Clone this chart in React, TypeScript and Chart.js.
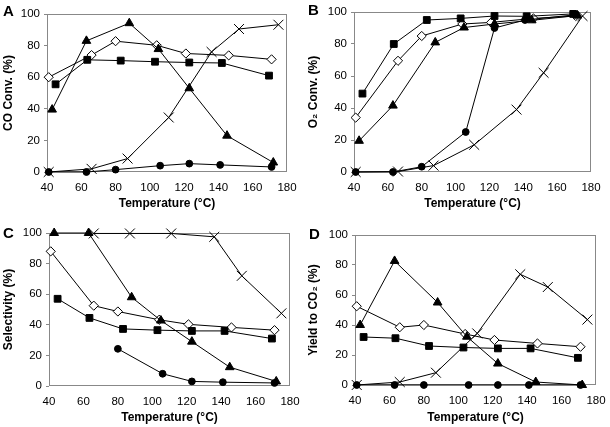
import React, { useEffect, useRef } from "react";
import { Chart, registerables } from "chart.js";

Chart.register(...registerables);

// Temperatures (°C) of each catalyst series
const tempSquare = [45, 63.5, 83, 103, 123, 142, 169.5];
const tempDiamond = [41, 66, 80, 104, 121, 146, 171];
const tempTriangle = [43, 63, 88, 105, 123, 145, 172];
const tempCross = [41, 66, 87, 111, 136, 152, 175];
const tempCircle = [41, 63, 80, 106, 123, 141, 171];

// A: CO conversion (%)
const coSquare = [55.5, 71, 70.5, 69.8, 69.3, 69, 61];
const coDiamond = [60, 74, 82.8, 80.2, 75, 73.8, 71.3];
const coTriangle = [39.5, 83, 94.2, 77.8, 53, 23, 6];
const coCross = [0, 2, 8.5, 34.5, 76, 90.5, 93.2];
const coCircle = [0, 0, 1.5, 4, 5.3, 4.5, 3.2];

// B: O2 conversion (%)
const o2Square = [49, 80, 95, 96, 97.5, 97.3, 98.8];
const o2Diamond = [34, 69.5, 85, 92.5, 93.5, 96, 97.5];
const o2Triangle = [19.5, 41.5, 81, 90.3, 92.5, 94.8, 97.8];
const o2Cross = [0, 0.3, 4, 17, 39, 62, 97.5];
const o2Circle = [0, 0, 3.3, 25, 90, 95, 98.3];

// C: Selectivity (%)
const selSquare = [57, 44.5, 37.3, 36.5, 36, 36, 31];
const selDiamond = [88, 52.5, 48.7, 43.3, 40.3, 38.3, 36.5];
const selTriangle = [100, 100, 58, 42.8, 29, 12.3, 3];
const selCross = [null, 99.7, 99.7, 99.7, 97.5, 72, 47.5];
const selCircle = [null, null, 24.3, 8, 3, 2.5, 2];

// D: Yield to CO2 (%)
const yldSquare = [32, 31.2, 26, 25, 24.4, 24.4, 18.1];
const yldDiamond = [52.5, 38.5, 40, 34, 30, 27.7, 25.5];
const yldTriangle = [40, 82.7, 55, 32.2, 14.3, 2, 0];
const yldCross = [0, 2, 8.2, 34.4, 73.8, 65.3, 43.6];
const yldCircle = [0, 0, 0, 0, 0, 0, 0];

const xTitle = "Temperature (°C)";
const FONT = "'Liberation Sans', Arial, sans-serif";

const styles: Record<string, any> = {
  square: { pointStyle: "rect", pointRadius: 4.8, pointBackgroundColor: "#000" },
  diamond: { pointStyle: "rectRot", pointRadius: 4.6, pointBackgroundColor: "#fff" },
  triangle: { pointStyle: "triangle", pointRadius: 5, pointBackgroundColor: "#000" },
  cross: { pointStyle: "crossRot", pointRadius: 7, pointBackgroundColor: "#000" },
  circle: { pointStyle: "circle", pointRadius: 3.4, pointBackgroundColor: "#000" },
};

function makeSeries(kind: string, temps: number[], vals: (number | null)[]) {
  return {
    data: temps.map((t, i) => ({ x: t, y: vals[i] })),
    borderColor: "#000",
    borderWidth: 1,
    pointBorderColor: "#000",
    pointBorderWidth: 1,
    clip: false,
    spanGaps: false,
    ...styles[kind],
  };
}

const framePlugin = {
  id: "frame",
  beforeDatasetsDraw(chart: any) {
    const { ctx, chartArea } = chart;
    const l = Math.round(chartArea.left) + 0.5;
    const t = Math.round(chartArea.top) + 0.5;
    const r = Math.round(chartArea.right) - 0.5;
    const b = Math.round(chartArea.bottom) - 0.5;
    ctx.save();
    ctx.strokeStyle = "#888";
    ctx.lineWidth = 1;
    ctx.strokeRect(l, t, r - l, b - t);
    ctx.restore();
  },
};

type PanelProps = {
  left: number;
  top: number;
  width: number;
  height: number;
  padTop: number;
  padRight: number;
  yWidth: number;
  xHeight: number;
  yTitle: string;
  letter: string;
  letterX: number;
  letterY: number;
  datasets: any[];
};

function Panel(p: PanelProps) {
  const ref = useRef<HTMLCanvasElement>(null);
  useEffect(() => {
    if (!ref.current) return;
    const chart = new Chart(ref.current, {
      type: "line",
      data: { datasets: p.datasets },
      options: {
        animation: false,
        responsive: false,
        maintainAspectRatio: false,
        layout: { padding: { top: p.padTop, right: p.padRight, left: 0, bottom: 0 } },
        plugins: { legend: { display: false }, tooltip: { enabled: false } },
        scales: {
          x: {
            type: "linear",
            min: 40,
            max: 180,
            grid: { display: false },
            border: { display: false },
            ticks: {
              stepSize: 20,
              autoSkip: false,
              maxRotation: 0,
              color: "#000",
              padding: 1,
              font: { family: FONT, size: 11.5 },
            },
            title: {
              display: true,
              text: xTitle,
              color: "#000",
              font: { family: FONT, size: 12, weight: "bold" },
              padding: { top: 0, bottom: 2 },
            },
            afterFit: (s: any) => {
              s.height = p.xHeight;
            },
          },
          y: {
            type: "linear",
            min: 0,
            max: 100,
            grid: { display: true, drawOnChartArea: false, drawTicks: true, tickLength: 3, tickColor: "#888" },
            border: { display: false },
            ticks: {
              stepSize: 20,
              color: "#000",
              padding: 4,
              font: { family: FONT, size: 11.5 },
            },
            title: {
              display: true,
              text: p.yTitle,
              color: "#000",
              font: { family: FONT, size: 12, weight: "bold" },
              padding: { top: 1.5, bottom: 0 },
            },
            afterFit: (s: any) => {
              s.width = p.yWidth;
            },
          },
        },
      } as any,
      plugins: [framePlugin],
    });
    return () => chart.destroy();
  }, []);
  return (
    <>
      <canvas
        ref={ref}
        width={p.width}
        height={p.height}
        style={{ position: "absolute", left: p.left, top: p.top, width: p.width, height: p.height, display: "block" }}
      />
      <div
        style={{
          position: "absolute",
          left: p.letterX,
          top: p.letterY,
          fontFamily: FONT,
          fontWeight: "bold",
          fontSize: 15,
          lineHeight: "15px",
          color: "#000",
        }}
      >
        {p.letter}
      </div>
    </>
  );
}

export default function App() {
  const dsA = [
    makeSeries("square", tempSquare, coSquare),
    makeSeries("triangle", tempTriangle, coTriangle),
    makeSeries("cross", tempCross, coCross),
    makeSeries("circle", tempCircle, coCircle),
    makeSeries("diamond", tempDiamond, coDiamond),
  ];
  const dsB = [
    makeSeries("square", tempSquare, o2Square),
    makeSeries("triangle", tempTriangle, o2Triangle),
    makeSeries("cross", tempCross, o2Cross),
    makeSeries("circle", tempCircle, o2Circle),
    makeSeries("diamond", tempDiamond, o2Diamond),
  ];
  const dsC = [
    makeSeries("square", tempSquare, selSquare),
    makeSeries("triangle", tempTriangle, selTriangle),
    makeSeries("cross", tempCross, selCross),
    makeSeries("circle", tempCircle, selCircle),
    makeSeries("diamond", tempDiamond, selDiamond),
  ];
  const dsD = [
    makeSeries("square", tempSquare, yldSquare),
    makeSeries("triangle", tempTriangle, yldTriangle),
    makeSeries("cross", tempCross, yldCross),
    makeSeries("circle", tempCircle, yldCircle),
    makeSeries("diamond", tempDiamond, yldDiamond),
  ];
  return (
    <div style={{ position: "absolute", left: 0, top: 0, width: 610, height: 427, background: "#fff", overflow: "hidden" }}>
      <Panel left={0} top={0} width={305} height={213} padTop={14} padRight={18} yWidth={47} xHeight={41}
        yTitle="CO Conv. (%)" letter="A" letterX={3} letterY={3} datasets={dsA} />
      <Panel left={305} top={0} width={305} height={213} padTop={12} padRight={19} yWidth={49} xHeight={41}
        yTitle="O₂ Conv. (%)" letter="B" letterX={308} letterY={2} datasets={dsB} />
      <Panel left={0} top={213} width={305} height={214} padTop={20} padRight={15} yWidth={49} xHeight={41}
        yTitle="Selectivity (%)" letter="C" letterX={3} letterY={225} datasets={dsC} />
      <Panel left={305} top={213} width={305} height={214} padTop={22} padRight={14} yWidth={50} xHeight={42}
        yTitle="Yield to CO₂ (%)" letter="D" letterX={309} letterY={226} datasets={dsD} />
    </div>
  );
}
